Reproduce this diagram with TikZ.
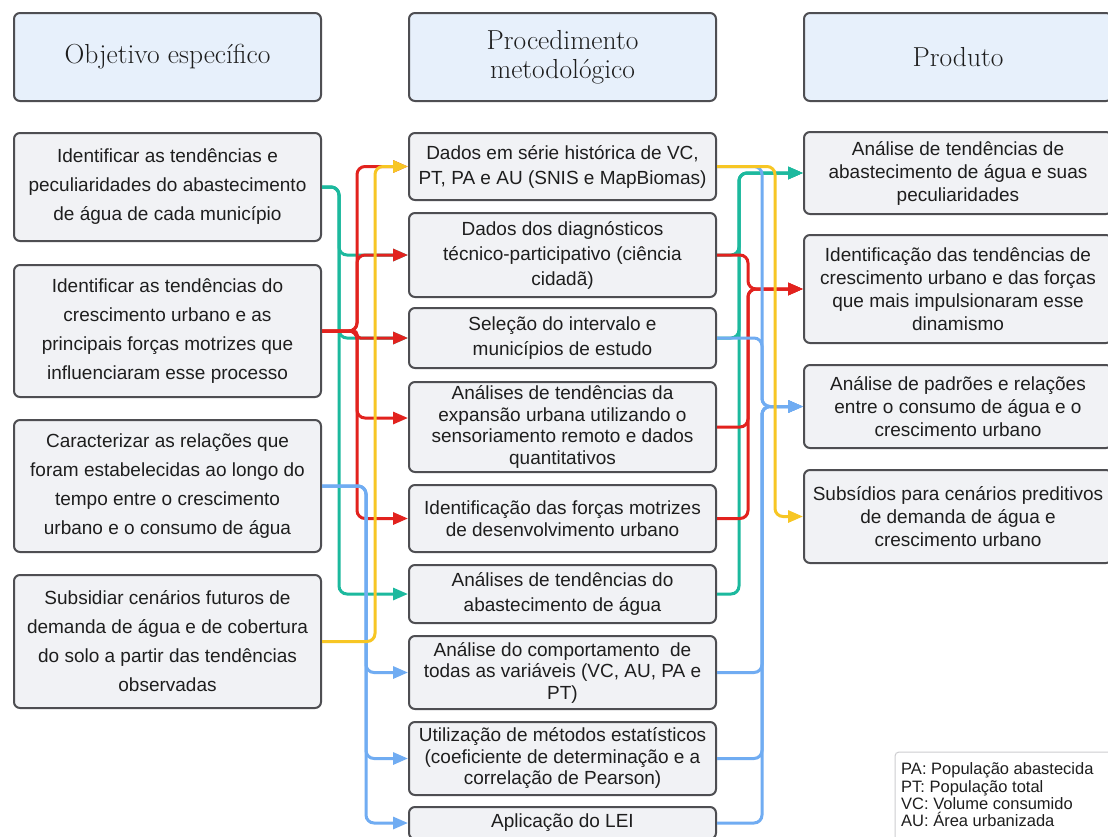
\documentclass[tikz,border=0pt]{standalone}
\usepackage{fontspec}
\newfontfamily\bodyfont{Liberation Sans}
\usetikzlibrary{arrows.meta}
\definecolor{bordc}{RGB}{78,78,82}
\definecolor{boxfill}{RGB}{241,242,245}
\definecolor{hdrfill}{RGB}{231,240,251}
\definecolor{txt}{RGB}{30,30,30}
\definecolor{cred}{RGB}{226,34,30}
\definecolor{cteal}{RGB}{28,185,158}
\definecolor{cyel}{RGB}{247,198,36}
\definecolor{cblue}{RGB}{112,172,242}
\definecolor{legbord}{RGB}{205,205,208}
\tikzset{
  hdr/.style={draw=bordc, line width=2pt, rounded corners=6pt, fill=hdrfill,
    minimum width=307pt, minimum height=88pt, align=center, text=txt,
    font=\fontsize{27.5}{29}\selectfont},
  box/.style={draw=bordc, line width=2pt, rounded corners=6pt, fill=boxfill,
    minimum width=307pt, align=center, text=txt, inner sep=2pt},
  lbox/.style={box, font=\bodyfont\fontsize{19}{29}\selectfont},
  mbox/.style={box, font=\bodyfont\fontsize{19}{25}\selectfont},
  mboxt/.style={box, font=\bodyfont\fontsize{19}{21.5}\selectfont},
  rbox/.style={box, minimum width=308pt, font=\bodyfont\fontsize{19}{23}\selectfont},
  conn/.style={line width=3pt, rounded corners=8pt, -{Triangle[length=15pt,width=12pt]}},
}
\begin{document}
\begin{tikzpicture}[x=1pt,y=-1pt]
\useasboundingbox (0,0) rectangle (1108,836);
\fill[white] (0,0) rectangle (1108,836);
\begin{scope}
\clip (0,0) rectangle (1108,836);
% headers
\node[hdr] (H1) at (167.5,57) {Objetivo específico};
\node[hdr] (H2) at (562.5,57) {Procedimento\\metodológico};
\node[hdr, minimum width=308pt] (H3) at (958,57) {Produto};
% left column
\node[lbox, minimum height=108pt] (L1) at (167.5,187) {Identificar as tendências e\\peculiaridades do abastecimento\\de água de cada município};
\node[lbox, minimum height=132pt] (L2) at (167.5,331) {Identificar as tendências do\\crescimento urbano e as\\principais forças motrizes que\\influenciaram esse processo};
\node[lbox, minimum height=132pt] (L3) at (167.5,486) {Caracterizar as relações que\\foram estabelecidas ao longo do\\tempo entre o crescimento\\urbano e o consumo de água};
\node[lbox, minimum height=133pt] (L4) at (167.5,641.5) {Subsidiar cenários futuros de\\demanda de água e de cobertura\\do solo a partir das tendências\\observadas};
% middle column
\node[mbox, minimum height=67pt] (M1) at (562.5,166.5) {Dados em série histórica de VC,\\PT, PA e AU (SNIS e MapBiomas)};
\node[mbox, minimum height=84pt] (M2) at (562.5,255) {Dados dos diagnósticos\\técnico-participativo (ciência\\cidadã)};
\node[mbox, minimum height=60pt] (M3) at (562.5,338) {Seleção do intervalo e\\municípios de estudo};
\node[mboxt, minimum height=90pt] (M4) at (562.5,427) {Análises de tendências da\\expansão urbana utilizando o\\sensoriamento remoto e dados\\quantitativos};
\node[mboxt, minimum height=67pt] (M5) at (562.5,518.5) {Identificação das forças motrizes\\de desenvolvimento urbano};
\node[mbox, minimum height=58pt] (M6) at (562.5,594) {Análises de tendências do\\abastecimento de água};
\node[mboxt, minimum height=73pt] (M7) at (562.5,672.5) {Análise do comportamento\ \ de\\todas as variáveis (VC, AU, PA e\\PT)};
\node[mboxt, minimum height=73pt] (M8) at (562.5,758.5) {Utilização de métodos estatísticos\\(coeficiente de determinação e a\\correlação de Pearson)};
\node[mbox, minimum height=32pt] (M9) at (562.5,823) {Aplicação do LEI};
% right column
\node[rbox, minimum height=82pt] (R1) at (958,173) {Análise de tendências de\\abastecimento de água e suas\\peculiaridades};
\node[rbox, minimum height=108pt] (R2) at (958,289) {Identificação das tendências de\\crescimento urbano e das forças\\que mais impulsionaram esse\\dinamismo};
\node[rbox, minimum height=83pt] (R3) at (958,406.5) {Análise de padrões e relações\\entre o consumo de água e o\\crescimento urbano};
\node[rbox, minimum height=93pt] (R4) at (958,516.5) {Subsídios para cenários preditivos\\de demanda de água e\\crescimento urbano};
% legend
\draw[legbord, line width=1pt, rounded corners=4pt, fill=white] (895,752) rectangle (1125,860);
\node[anchor=west, align=left, inner sep=0pt, text=txt, font=\bodyfont\fontsize{16.5}{17.3}\selectfont] (LEG) at (901,795) {PA: População abastecida\\PT: População total\\VC: Volume consumido\\AU: Área urbanizada};
% lanes
\coordinate (lt) at (339,0);
\coordinate (lr) at (357,0);
\coordinate (lb) at (366,0);
\coordinate (ly) at (375,0);
\coordinate (rt) at (739,0);
\coordinate (rr) at (748,0);
\coordinate (rb) at (762,0);
\coordinate (ry) at (775,0);
% teal
\draw[conn, cteal] (L1.east) -- (L1.east -| lt) |- (M2.west);
\draw[conn, cteal] (L1.east) -- (L1.east -| lt) |- (M3.west);
\draw[conn, cteal] (L1.east) -- (L1.east -| lt) |- (M6.west);
\draw[conn, cteal] (M2.east) -- (M2.east -| rt) |- (R1.west);
\draw[conn, cteal] (M3.east) -- (M3.east -| rt) |- (R1.west);
\draw[conn, cteal] (M6.east) -- (M6.east -| rt) |- (R1.west);
% red
\draw[conn, cred] (L2.east) -- (L2.east -| lr) |- (M1.west);
\draw[conn, cred] (L2.east) -- (L2.east -| lr) |- (M2.west);
\draw[conn, cred, rounded corners=3.5pt] (L2.east) -- (L2.east -| lr) |- (M3.west);
\draw[conn, cred] (L2.east) -- (L2.east -| lr) |- ([yshift=9pt]M4.west);
\draw[conn, cred] (L2.east) -- (L2.east -| lr) |- (M5.west);
\draw[conn, cred] (M2.east) -- (M2.east -| rr) |- (R2.west);
\draw[conn, cred] (M4.east) -- (M4.east -| rr) |- (R2.west);
\draw[conn, cred] (M5.east) -- (M5.east -| rr) |- (R2.west);
% blue
\draw[conn, cblue] (L3.east) -- (L3.east -| lb) |- (M7.west);
\draw[conn, cblue] (L3.east) -- (L3.east -| lb) |- (M8.west);
\draw[conn, cblue] (L3.east) -- (L3.east -| lb) |- (M9.west);
\draw[conn, cblue] (M1.east) -- (M1.east -| rb) |- (R3.west);
\draw[conn, cblue] (M3.east) -- (M3.east -| rb) |- (R3.west);
\draw[conn, cblue] (M7.east) -- (M7.east -| rb) |- (R3.west);
\draw[conn, cblue] (M8.east) -- (M8.east -| rb) |- (R3.west);
\draw[conn, cblue] (M9.east) -- (M9.east -| rb) |- (R3.west);
% yellow
\draw[conn, cyel] (L4.east) -- (L4.east -| ly) |- (M1.west);
\draw[conn, cyel] (M1.east) -- (M1.east -| ry) |- (R4.west);
\end{scope}
\end{tikzpicture}
\end{document}
